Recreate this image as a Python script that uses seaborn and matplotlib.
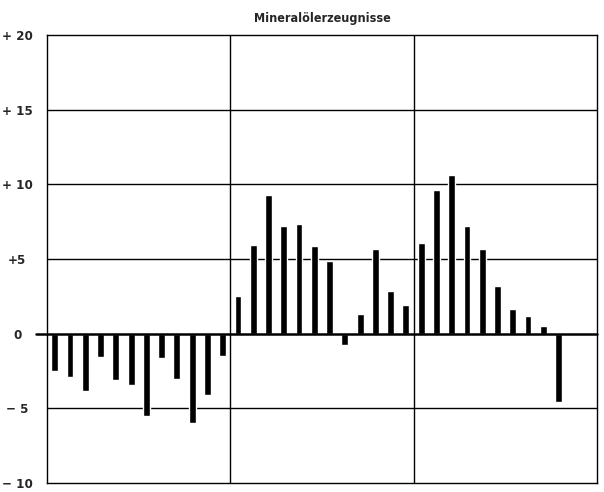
import numpy as np
import pandas as pd
import matplotlib.pyplot as plt
import seaborn as sns

# monthly change in %, three years of 12 months each (last two months missing)
values = [-2.5, -2.9, -3.85, -1.55, -3.1, -3.45, -5.5, -1.65, -3.0, -6.0, -4.1, -1.5,
          2.5, 5.95, 9.3, 7.2, 7.35, 5.85, 4.9, -0.75, 1.3, 5.65, 2.85, 1.9,
          6.1, 9.6, 10.6, 7.2, 5.65, 3.2, 1.65, 1.2, 0.5, -4.6]
n_slots = 36
ytick_vals = [20, 15, 10, 5, 0, -5, -10]
ytick_labels = ['+ 20', '+ 15', '+ 10', '+5', '0', '\u2212 5', '\u2212 10']
title = 'Mineralölerzeugnisse'

df = pd.DataFrame({'slot': np.arange(len(values)), 'value': values})

sns.set_style('white')
plt.rcParams['font.family'] = ['DejaVu Sans Condensed', 'Liberation Sans Narrow', 'DejaVu Sans']
plt.rcParams['font.stretch'] = 'condensed'

fig = plt.figure(figsize=(6.04, 4.92), dpi=100)
ax = fig.add_axes([0.078, 0.018, 0.910, 0.911])

sns.barplot(data=df, x='slot', y='value', native_scale=True, width=0.45,
            color='black', saturation=1, ax=ax, zorder=3)

# grid lines
for y in [-5, 5, 10, 15]:
    ax.axhline(y, color='black', lw=1.0, zorder=1)
ax.axhline(0, color='black', lw=1.8, zorder=4, xmin=-0.02, clip_on=False)
for x in [11.5, 23.5]:
    ax.axvline(x, color='black', lw=1.0, zorder=1)

ax.set_xlim(-0.5, n_slots - 0.5)
ax.set_ylim(-10, 20)
ax.set_xticks([])
ax.set_yticks(ytick_vals)
ax.set_yticklabels(ytick_labels, fontsize=9.5, fontweight='bold')
ax.tick_params(axis='y', length=0, pad=21.5)
for lbl in ax.get_yticklabels():
    lbl.set_horizontalalignment('center')
ax.set_xlabel('')
ax.set_ylabel('')
for side in ax.spines.values():
    side.set_color('black')
    side.set_linewidth(1.0)

fig.text(0.533, 0.963, title, ha='center', va='center', fontsize=9, fontweight='bold')

plt.savefig('out.png', dpi=100)
